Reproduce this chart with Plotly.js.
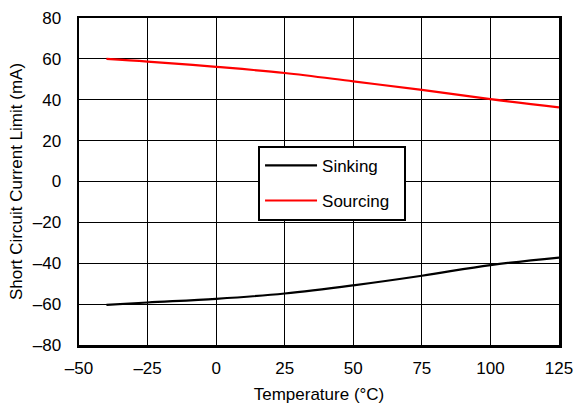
<!DOCTYPE html>
<html>
<head>
<meta charset="utf-8">
<script src="https://cdn.plot.ly/plotly-3.0.1.min.js"></script>
<style>html,body{margin:0;padding:0;background:#fff;}#chart{width:576px;height:405px;}</style>
</head>
<body>
<div id="chart"></div>
<script>
var temperature = [-40, -25, 0, 25, 50, 75, 100, 125];
var sinking = [-60.4, -59.2, -57.4, -54.8, -50.8, -46.1, -40.9, -37.2];
var sourcing = [60.0, 58.7, 56.1, 53.1, 49.0, 44.8, 40.3, 36.3];
var seriesNames = ["Sinking", "Sourcing"];
var xTicks = [-50, -25, 0, 25, 50, 75, 100, 125];
var xTickText = ["\u201350", "\u201325", "0", "25", "50", "75", "100", "125"];
var yTicks = [-80, -60, -40, -20, 0, 20, 40, 60, 80];
var yTickText = ["\u201380", "\u201360", "\u201340", "\u201320", "0", "20", "40", "60", "80"];

var font = {family: "Liberation Sans, Arial, sans-serif", size: 17, color: "#000"};

var traces = [
  {x: temperature, y: sinking, name: seriesNames[0], mode: "lines", legendgroup: "a",
   line: {color: "#000000", width: 2.2, shape: "spline"}},
  {x: temperature, y: sourcing, name: seriesNames[1] + "\u00a0\u00a0", mode: "lines", legendgroup: "b",
   line: {color: "#ff0000", width: 2.2, shape: "spline"}}
];

var axisCommon = {
  showgrid: true, gridcolor: "#000", gridwidth: 1,
  showline: true, linecolor: "#000", linewidth: 2.5, mirror: true,
  zeroline: false, ticks: "", tickfont: font, fixedrange: true
};

var layout = {
  width: 576, height: 405,
  margin: {l: 79, r: 17, t: 18, b: 60},
  paper_bgcolor: "#fff", plot_bgcolor: "#fff",
  font: font,
  xaxis: Object.assign({}, axisCommon, {
    range: [-50, 125], tickmode: "array", tickvals: xTicks, ticktext: xTickText,
    ticklabelstandoff: 6,
    title: {text: "Temperature (°C)", font: font, standoff: 11}
  }),
  yaxis: Object.assign({}, axisCommon, {
    range: [-80, 80], tickmode: "array", tickvals: yTicks, ticktext: yTickText,
    ticklabelstandoff: 12,
    title: {text: "Short Circuit Current Limit (mA)", font: font, standoff: 6}
  }),
  showlegend: true,
  legend: {
    x: 0.373, y: 0.609, xanchor: "left", yanchor: "top",
    bgcolor: "#fff", bordercolor: "#000", borderwidth: 2,
    font: {family: font.family, size: 17, color: "#000"},
    traceorder: "grouped", tracegroupgap: 10,
    itemwidth: 52
  }
};

Plotly.newPlot("chart", traces, layout, {staticPlot: true, displayModeBar: false});
</script>
</body>
</html>
